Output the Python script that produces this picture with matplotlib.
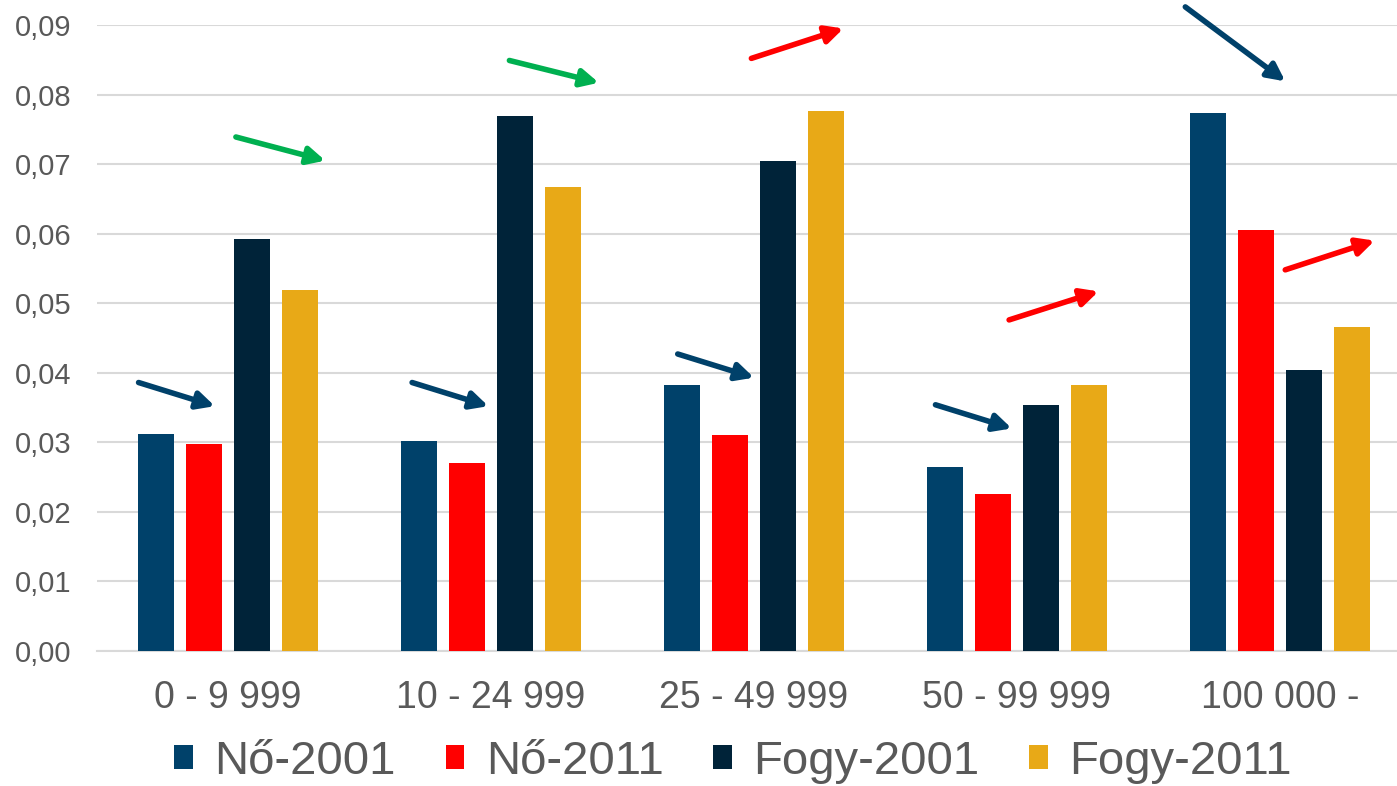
import numpy as np
import matplotlib.pyplot as plt

plt.rcParams['font.family'] = ['Liberation Sans', 'DejaVu Sans']

categories = ['0 - 9 999', '10 - 24 999', '25 - 49 999', '50 - 99 999', '100 000 -']
series = ['Nő-2001', 'Nő-2011', 'Fogy-2001', 'Fogy-2011']
no_2001 = [0.0312, 0.0302, 0.0382, 0.0264, 0.0773]
no_2011 = [0.0297, 0.0270, 0.0310, 0.0226, 0.0605]
fogy_2001 = [0.0592, 0.0769, 0.0705, 0.0353, 0.0404]
fogy_2011 = [0.0519, 0.0667, 0.0777, 0.0382, 0.0466]
colors = ['#00416A', '#FF0000', '#002339', '#E8A917']

# trend arrows: (x tail, y tail, x head, y head, colour) in data units
arrows = [
    (-0.34, 0.0386, -0.05, 0.0352, '#00416A'),
    (0.03, 0.0739, 0.37, 0.0705, '#00B050'),
    (0.70, 0.0386, 0.99, 0.0352, '#00416A'),
    (1.07, 0.0849, 1.41, 0.0817, '#00B050'),
    (1.71, 0.0427, 2.00, 0.0393, '#00416A'),
    (1.99, 0.0852, 2.34, 0.0895, '#FF0000'),
    (2.69, 0.0354, 2.98, 0.0320, '#00416A'),
    (2.97, 0.0476, 3.31, 0.0517, '#FF0000'),
    (3.64, 0.0926, 4.02, 0.0819, '#00416A'),
    (4.02, 0.0548, 4.36, 0.0590, '#FF0000'),
]

fig = plt.figure(figsize=(13.97, 7.86), dpi=100)
ax = fig.add_axes([96.5/1397, 1 - 651/786, 1315/1397, 626/786])

x = np.arange(len(categories))
width = 0.14
step = 0.1825
for i, (vals, lab) in enumerate(zip([no_2001, no_2011, fogy_2001, fogy_2011], series)):
    ax.bar(x + (i - 1.5) * step, vals, width, color=colors[i], label=lab, zorder=3)

for x0, y0, x1, y1, c in arrows:
    ax.annotate('', xy=(x1, y1), xytext=(x0, y0), annotation_clip=False,
                arrowprops=dict(arrowstyle='-|>', color=c, lw=4, mutation_scale=26,
                                shrinkA=0, shrinkB=0), zorder=4)

ax.set_xlim(-0.5, 4.5)
ax.set_ylim(0, 0.09)
ax.set_yticks(np.arange(0, 0.091, 0.01))
ax.set_yticklabels([f'{v:.2f}'.replace('.', ',') for v in np.arange(0, 0.091, 0.01)])
ax.set_xticks(x)
ax.set_xticklabels(categories)
ax.tick_params(axis='both', length=0, colors='#595959')
ax.tick_params(axis='x', pad=21, labelsize=27)
ax.tick_params(axis='y', pad=18, labelsize=21)
ax.grid(axis='y', color='#D9D9D9', lw=1.5, zorder=0)
for s in ['top', 'right', 'left']:
    ax.spines[s].set_visible(False)
ax.spines['bottom'].set_color('#D9D9D9')
ax.spines['bottom'].set_linewidth(1.5)

leg = fig.legend(loc='center', bbox_to_anchor=(733/1397, 1 - 762/786), ncol=4, frameon=False,
                 fontsize=34, handlelength=0.4, handleheight=0.4, handletextpad=0.45,
                 columnspacing=1.05, borderaxespad=0)
for t in leg.get_texts():
    t.set_color('#595959')

fig.savefig('out.png', dpi=100)
